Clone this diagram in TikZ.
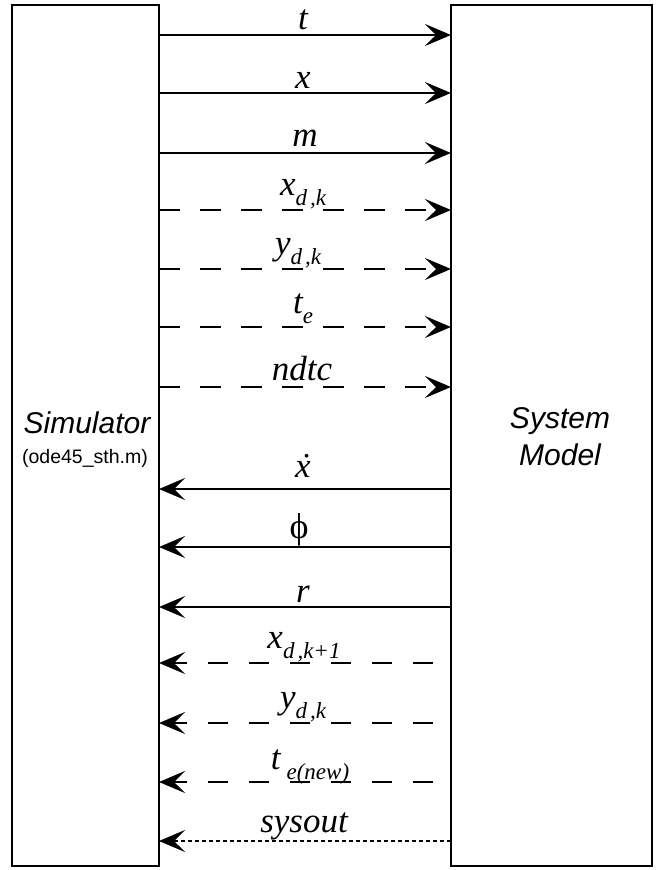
\documentclass[tikz,border=0pt]{standalone}
\usepackage{fontspec}
\setmainfont{Liberation Serif}
\newfontfamily\sansfam{Liberation Sans}
\usetikzlibrary{arrows.meta,calc}

% subscript set smaller and dropped below the baseline
\newcommand\lsub[1]{\raisebox{-10pt}{\fontsize{23}{23}\selectfont #1}}

\begin{document}
\begin{tikzpicture}[x=1pt,y=-1pt,
  block/.style={draw, line width=2pt, inner sep=0pt, outer sep=0pt, minimum height=861pt},
  tip/.style={-{Stealth[length=26pt,width=22pt,inset=11pt]}},
  solidarr/.style={tip, line width=1.6pt},
  dasharr/.style={tip, line width=1.6pt, dash pattern=on 20.5pt off 20.5pt},
  dotarr/.style={tip, line width=1.2pt, dash pattern=on 4pt off 3pt},
  lbl/.style={anchor=base, inner sep=0pt, font=\fontsize{35}{35}\selectfont\itshape},
  title/.style={anchor=base, inner sep=0pt, font=\sansfam\fontsize{30}{30}\selectfont\itshape},
]
\useasboundingbox (0,0) rectangle (662,870);

% the two blocks
\node[block, minimum width=147pt] (sim) at (85.5,435.5) {};
\node[block, minimum width=201pt] (mod) at (551.5,435.5) {};

\node[title] (simname) at (87,433) {Simulator};
\node[anchor=base, inner sep=0pt, font=\sansfam\fontsize{19.5}{19.5}\selectfont] (simfile) at (85,463) {(ode45\_sth.m)};
\node[title] (modname1) at (560,428) {System};
\node[title] (modname2) at (560,465) {Model};

% inputs to the model
\draw[solidarr] (sim.east |- 0,35) -- (mod.west |- 0,35);
\node[lbl] (lt) at (303,29) {t};
\draw[solidarr] (sim.east |- 0,93) -- (mod.west |- 0,93);
\node[lbl] (lx) at (303,88) {x};
\draw[solidarr] (sim.east |- 0,153) -- (mod.west |- 0,153);
\node[lbl] (lm) at (305,146) {m};

\draw[dasharr] (sim.east |- 0,210) -- (mod.west |- 0,210);
\node[lbl] (lxd) at (303,195) {x\lsub{d\kern3pt,k}};
\draw[dasharr] (sim.east |- 0,269) -- (mod.west |- 0,269);
\node[lbl] (lyd) at (298,254) {y\lsub{d\kern3pt,k}};
\draw[dasharr] (sim.east |- 0,327) -- (mod.west |- 0,327);
\node[lbl] (lte) at (303,313) {t\lsub{e}};
\draw[dasharr] (sim.east |- 0,387) -- (mod.west |- 0,387);
\node[lbl] (lndtc) at (302,380) {ndtc};

% outputs of the model
\draw[solidarr] (mod.west |- 0,489) -- (sim.east |- 0,489);
\node[lbl] (lxdot) at (303,477) {\ooalign{x\cr\hidewidth\kern3pt\char"02D9\hidewidth\cr}};
\draw[solidarr] (mod.west |- 0,547) -- (sim.east |- 0,547);
\node[lbl, font=\fontsize{36}{36}\selectfont\upshape] (lphi) at (299,538) {ϕ};
\draw[solidarr] (mod.west |- 0,607) -- (sim.east |- 0,607);
\node[lbl] (lr) at (303,602) {r};

\coordinate (o1) at ($(mod.west |- 0,663)+(-18,0)$);
\coordinate (o2) at ($(mod.west |- 0,723)+(-18,0)$);
\coordinate (o3) at ($(mod.west |- 0,782)+(-18,0)$);
\draw[dasharr] (o1) -- (sim.east |- o1);
\node[lbl] (lxd1) at (304,648) {x\lsub{d\kern3pt,k+1}};
\draw[dasharr] (o2) -- (sim.east |- o2);
\node[lbl] (lyd2) at (303,708) {y\lsub{d\kern3pt,k}};
\draw[dasharr] (o3) -- (sim.east |- o3);
\node[lbl] (lten) at (310,769) {t\kern6pt\lsub{e(new)}};

\draw[dotarr] (mod.west |- 0,841) -- (sim.east |- 0,841);
\node[lbl] (lsys) at (304,832) {sysout};
\end{tikzpicture}
\end{document}
